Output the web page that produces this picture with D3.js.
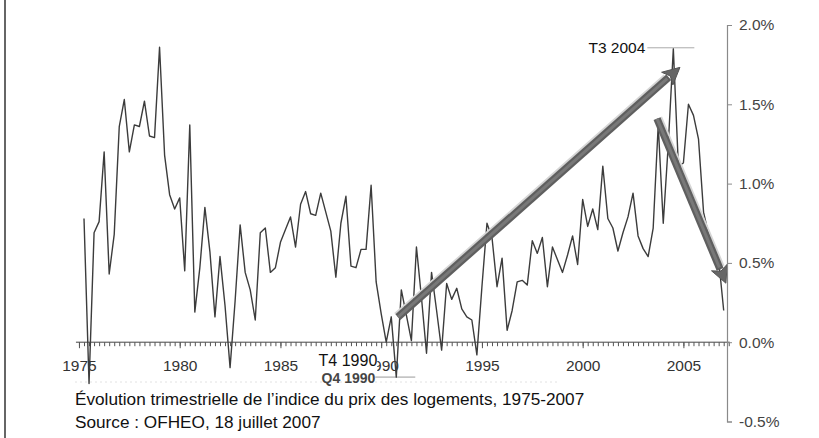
<!DOCTYPE html>
<html><head><meta charset="utf-8">
<script src="https://cdn.jsdelivr.net/npm/d3@7"></script>
<style>
body{margin:0;background:#fff}
svg{display:block;font-family:"Liberation Sans",Arial,Helvetica,sans-serif}
</style>
</head><body>
<svg id="c" width="819" height="438"></svg>
<script>
// ---- data ----
const firstQuarter = 1975.25; // 1975 T2
const values = [
 0.78,-0.26,0.69,0.76,1.20,0.43,0.68,1.36,1.53,1.20,
 1.37,1.36,1.52,1.30,1.29,1.86,1.18,0.93,0.84,0.91,
 0.45,1.37,0.19,0.47,0.85,0.57,0.16,0.54,0.23,-0.16,
 0.26,0.74,0.44,0.33,0.14,0.69,0.72,0.44,0.47,0.63,
 0.71,0.79,0.60,0.87,0.95,0.81,0.80,0.94,0.82,0.70,
 0.41,0.75,0.92,0.48,0.47,0.585,0.585,0.99,0.38,0.18,
 0.00,0.16,-0.22,0.33,0.17,0.01,0.60,0.28,-0.07,0.44,
 0.20,-0.05,0.37,0.27,0.34,0.21,0.16,0.14,-0.08,0.35,
 0.75,0.66,0.35,0.53,0.075,0.20,0.38,0.39,0.36,0.64,
 0.56,0.66,0.35,0.60,0.52,0.44,0.55,0.67,0.49,0.90,
 0.73,0.84,0.71,1.11,0.78,0.72,0.575,0.69,0.79,0.94,
 0.67,0.59,0.54,0.72,1.37,0.75,1.25,1.85,1.11,1.13,
 1.50,1.43,1.28,0.82,0.68,0.58,0.52,0.20
];
const yearTicks = [1975,1980,1985,1990,1995,2000,2005];
const yTickValues = [-0.5,0,0.5,1.0,1.5,2.0];
const captionLines = [
 "Évolution trimestrielle de l’indice du prix des logements, 1975-2007",
 "Source : OFHEO, 18 juillet 2007"
];
const peakNote = {t:2004.5, v:1.85, text:"T3 2004"};
const troughNote = {t:1990.75, v:-0.22, text:"T4 1990", original:"Q4 1990"};
const arrowStarts = [[1990.83,0.158],[2003.69,1.41]];
const arrowEnds   = [[2004.83,1.733],[2007.11,0.372]];

// ---- scales ----
const svg = d3.select("#c");
svg.append("rect").attr("width",819).attr("height",438).attr("fill","#fff");
const lastT = firstQuarter + (values.length-1)/4;
const x = d3.scaleLinear().domain([firstQuarter, lastT]).range([84, 723.7]);
const y = d3.scaleLinear().domain([-0.5, 2.0]).range([421.5, 25]);
const pts = values.map((v,i)=>({t:firstQuarter+i/4, v}));

// left frame line
svg.append("line").attr("x1",5).attr("x2",5).attr("y1",0).attr("y2",438)
  .attr("stroke","#333").attr("stroke-width",1.5);

// faint dotted line under year labels
svg.append("line").attr("x1",75).attr("x2",560).attr("y1",382).attr("y2",382)
  .attr("stroke","#e2e2e2").attr("stroke-dasharray","2,3");

// ---- x axis (at 0%) ----
const quarters = d3.range(1975, 2007.26, 0.25);
const gx = svg.append("g").attr("transform",`translate(0,${y(0)})`);
gx.call(d3.axisBottom(x).tickValues(quarters).tickSize(4).tickFormat(""));
gx.select(".domain").attr("d",`M${x(1974.85)},0H${x(2007.3)}`).attr("stroke","#444");
gx.selectAll(".tick line").attr("stroke","#555");
const gxl = svg.append("g").attr("transform",`translate(0,${y(0)})`);
gxl.call(d3.axisBottom(x).tickValues(yearTicks).tickSize(6).tickPadding(12).tickFormat(d3.format("d")));
gxl.select(".domain").remove();
gxl.selectAll(".tick line").attr("stroke","#555");
gxl.selectAll(".tick text").attr("font-size",15.5).attr("fill","#333")
  .attr("font-family","'Liberation Sans',Arial,sans-serif");

// original english trough label and its leader
svg.append("line").attr("x1",x(troughNote.t)-21).attr("x2",x(troughNote.t)+19)
  .attr("y1",y(troughNote.v)).attr("y2",y(troughNote.v)).attr("stroke","#999").attr("stroke-width",1);
svg.append("text").attr("x",x(troughNote.t)-21).attr("y",y(troughNote.v)+5.5)
  .attr("text-anchor","end").attr("font-size",14).attr("font-weight","bold").attr("fill","#444")
  .text(troughNote.original);
// french label on white box
svg.append("rect").attr("x",x(troughNote.t)-82).attr("y",y(troughNote.v)-28)
  .attr("width",63).attr("height",24).attr("fill","#fff");
svg.append("text").attr("x",x(troughNote.t)-19).attr("y",y(troughNote.v)-11)
  .attr("text-anchor","end").attr("font-size",16).attr("fill","#111")
  .text(troughNote.text);

// ---- data line ----
svg.append("path").datum(pts)
  .attr("d", d3.line().x(d=>x(d.t)).y(d=>y(d.v)))
  .attr("fill","none").attr("stroke","#3c3c3c").attr("stroke-width",1.4)
  .attr("stroke-linejoin","round");

// ---- arrows ----
function arrow(p0, p1){
  const a=[x(p0[0]),y(p0[1])], b=[x(p1[0]),y(p1[1])];
  const dx=b[0]-a[0], dy=b[1]-a[1], L=Math.hypot(dx,dy), ux=dx/L, uy=dy/L, nx=-uy, ny=ux;
  const hl=17, hw=8.5;
  const base=[b[0]-ux*hl, b[1]-uy*hl];
  const g=svg.append("g");
  g.append("line").attr("x1",a[0]-nx*4.5).attr("y1",a[1]-ny*4.5)
    .attr("x2",base[0]-nx*4.5).attr("y2",base[1]-ny*4.5)
    .attr("stroke","#d6d6d6").attr("stroke-width",2);
  g.append("line").attr("x1",a[0]).attr("y1",a[1]).attr("x2",base[0]+ux*2).attr("y2",base[1]+uy*2)
    .attr("stroke","#5f5f5f").attr("stroke-width",7.5);
  g.append("line").attr("x1",a[0]).attr("y1",a[1]).attr("x2",base[0]).attr("y2",base[1])
    .attr("stroke","#787878").attr("stroke-width",3);
  g.append("path").attr("d",`M${b[0]},${b[1]}L${base[0]+nx*hw},${base[1]+ny*hw}L${base[0]+ux*4},${base[1]+uy*4}L${base[0]-nx*hw},${base[1]-ny*hw}Z`)
    .attr("fill","#666").attr("stroke","#555").attr("stroke-width",1);
}
arrowStarts.forEach((s,i)=>arrow(s, arrowEnds[i]));

// ---- y axis (right) ----
const gy = svg.append("g").attr("transform",`translate(727,0)`);
gy.call(d3.axisRight(y).tickValues(yTickValues).tickSize(5).tickPadding(7)
  .tickFormat(d=>d.toFixed(1)+"%"));
gy.select(".domain").attr("stroke","#8a8a8a").attr("stroke-width",1.2);
gy.selectAll(".tick line").attr("stroke","#8a8a8a");
gy.selectAll(".tick text").attr("font-size",15.5).attr("fill","#444")
  .attr("font-family","'Liberation Sans',Arial,sans-serif");

// ---- peak annotation ----
svg.append("line").attr("x1",x(peakNote.t)-26).attr("x2",x(peakNote.t)+21)
  .attr("y1",y(peakNote.v)-1).attr("y2",y(peakNote.v)-1).attr("stroke","#aaa").attr("stroke-width",1);
svg.append("text").attr("x",x(peakNote.t)-28).attr("y",y(peakNote.v)+4.5)
  .attr("text-anchor","end").attr("font-size",15.5).attr("fill","#111").text(peakNote.text);

// ---- caption ----
svg.append("g").selectAll("text").data(captionLines).join("text")
  .attr("x",75).attr("y",(d,i)=>405+i*23)
  .attr("font-size",17.2).attr("fill","#111").text(d=>d);
</script>
</body></html>
